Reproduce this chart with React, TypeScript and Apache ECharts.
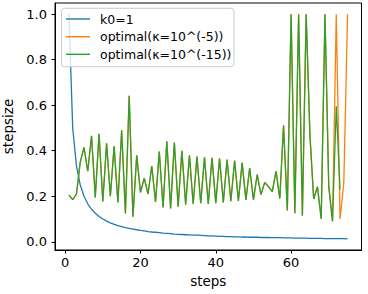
import React, { useEffect, useRef } from "react";
import * as echarts from "echarts";

const seriesNames = ["k0=1", "optimal(κ=10^(-5))", "optimal(κ=10^(-15))"];
const colors = ["#1f77b4", "#ff7f0e", "#2ca02c"];

// stepsize for k0=1, steps 1..75
const blueValues = [
  1.0, 0.5, 0.333, 0.25, 0.2, 0.167, 0.143, 0.125, 0.111, 0.1,
  0.091, 0.083, 0.077, 0.071, 0.067, 0.0625, 0.059, 0.056, 0.053, 0.05,
  0.048, 0.045, 0.043, 0.042, 0.04, 0.038, 0.037, 0.036, 0.034, 0.033,
  0.032, 0.031, 0.03, 0.029, 0.029, 0.028, 0.027, 0.026, 0.026, 0.025,
  0.024, 0.024, 0.023, 0.023, 0.022, 0.022, 0.021, 0.021, 0.02, 0.02,
  0.02, 0.019, 0.019, 0.019, 0.018, 0.018, 0.018, 0.017, 0.017, 0.017,
  0.016, 0.016, 0.016, 0.016, 0.015, 0.015, 0.015, 0.015, 0.014, 0.014,
  0.014, 0.014, 0.014, 0.014, 0.013,
];

// optimal(κ=10^(-15)), steps 1..73
const greenValues = [
  0.205, 0.185, 0.21, 0.35, 0.415, 0.31, 0.466, 0.195, 0.475, 0.177,
  0.433, 0.2, 0.42, 0.173, 0.49, 0.124, 0.642, 0.11, 0.38, 0.217,
  0.28, 0.21, 0.333, 0.175, 0.396, 0.151, 0.442, 0.147, 0.436, 0.154,
  0.4, 0.163, 0.38, 0.166, 0.374, 0.17, 0.371, 0.166, 0.369, 0.17,
  0.366, 0.173, 0.361, 0.178, 0.357, 0.18, 0.347, 0.184, 0.324, 0.185,
  0.295, 0.207, 0.261, 0.242, 0.22, 0.31, 0.19, 0.511, 0.138, 1.0,
  0.125, 1.0, 0.115, 1.0, 0.47, 0.188, 0.242, 0.1, 1.0, 0.24,
  0.09, 0.595, 0.23,
];

// optimal(κ=10^(-5)), steps 1..75
const orangeValues = [
  0.205, 0.185, 0.21, 0.35, 0.415, 0.31, 0.466, 0.195, 0.475, 0.177,
  0.433, 0.2, 0.42, 0.173, 0.49, 0.124, 0.642, 0.11, 0.38, 0.217,
  0.28, 0.21, 0.333, 0.175, 0.396, 0.151, 0.442, 0.147, 0.436, 0.154,
  0.4, 0.163, 0.38, 0.166, 0.374, 0.17, 0.371, 0.166, 0.369, 0.17,
  0.366, 0.173, 0.361, 0.178, 0.357, 0.18, 0.347, 0.184, 0.324, 0.185,
  0.295, 0.207, 0.261, 0.242, 0.22, 0.31, 0.19, 0.511, 0.138, 1.0,
  0.125, 1.0, 0.115, 1.0, 0.47, 0.188, 0.242, 0.1, 1.0, 0.25,
  0.09, 1.0, 0.1, 0.26, 1.0,
];

const xTicks = [0, 20, 40, 60];
const yTicks = [0, 0.2, 0.4, 0.6, 0.8, 1.0];

const FONT = "DejaVu Sans";

function toPairs(vals: number[]) {
  return vals.map((v, i) => [i + 1, v]);
}

export default function App() {
  const ref = useRef<HTMLDivElement>(null);
  useEffect(() => {
    document.body.style.margin = "0";
    const chart = echarts.init(ref.current!, undefined, { renderer: "svg" });
    const allSeries = [blueValues, orangeValues, greenValues];

    const legendX = 61.5;
    const legendY = 8.3;
    const rowY = [19, 36.7, 54.3];
    const legendChildren: any[] = [
      {
        type: "rect",
        z: 100,
        shape: { x: legendX, y: legendY, width: 172.5, height: 58.4, r: 3 },
        style: { fill: "rgba(255,255,255,0.8)", stroke: "#cccccc", lineWidth: 1 },
      },
    ];
    seriesNames.forEach((name, i) => {
      legendChildren.push({
        type: "line",
        z: 101,
        shape: { x1: 66, y1: rowY[i], x2: 90, y2: rowY[i] },
        style: { stroke: colors[i], lineWidth: 1.4 },
      });
      legendChildren.push({
        type: "text",
        z: 101,
        x: 100,
        y: rowY[i],
        style: {
          text: name,
          fontFamily: FONT,
          fontSize: 12.5,
          fill: "#000",
          verticalAlign: "middle",
          align: "left",
        },
      });
    });

    chart.setOption({
      animation: false,
      textStyle: { fontFamily: FONT },
      grid: {
        left: 55,
        right: 6.5,
        top: 3,
        bottom: 44,
        show: true,
        borderColor: "#000",
        borderWidth: 1,
        backgroundColor: "transparent",
        outerBoundsMode: "none",
        containLabel: false,
      },
      graphic: legendChildren,
      xAxis: {
        type: "value",
        min: -2.7,
        max: 78.7,
        name: "steps",
        nameLocation: "middle",
        nameGap: 24,
        nameTextStyle: { fontFamily: FONT, fontSize: 13.5, color: "#000" },
        axisLine: { show: true, onZero: false, lineStyle: { color: "#000", width: 1 } },
        axisTick: {
          show: true,
          length: 3.5,
          customValues: xTicks,
          lineStyle: { color: "#000", width: 1 },
        },
        axisLabel: {
          customValues: xTicks,
          margin: 6,
          fontFamily: FONT,
          fontSize: 13,
          color: "#000",
        },
        splitLine: { show: false },
      },
      yAxis: {
        type: "value",
        min: -0.036,
        max: 1.049,
        name: "stepsize",
        nameLocation: "middle",
        nameGap: 34,
        nameTextStyle: { fontFamily: FONT, fontSize: 13.5, color: "#000" },
        axisLine: { show: true, onZero: false, lineStyle: { color: "#000", width: 1 } },
        axisTick: {
          show: true,
          length: 3.5,
          customValues: yTicks,
          lineStyle: { color: "#000", width: 1 },
        },
        axisLabel: {
          customValues: yTicks,
          margin: 8,
          fontFamily: FONT,
          fontSize: 13,
          color: "#000",
          formatter: (v: number) => v.toFixed(1),
        },
        splitLine: { show: false },
      },
      series: allSeries.map((vals, i) => ({
        name: seriesNames[i],
        type: "line",
        data: toPairs(vals),
        symbol: "none",
        showSymbol: false,
        lineStyle: { color: colors[i], width: 1.3 },
        itemStyle: { color: colors[i] },
        z: 2 + i,
      })),
    });
    return () => chart.dispose();
  }, []);
  return <div ref={ref} style={{ width: 368, height: 294 }} />;
}
